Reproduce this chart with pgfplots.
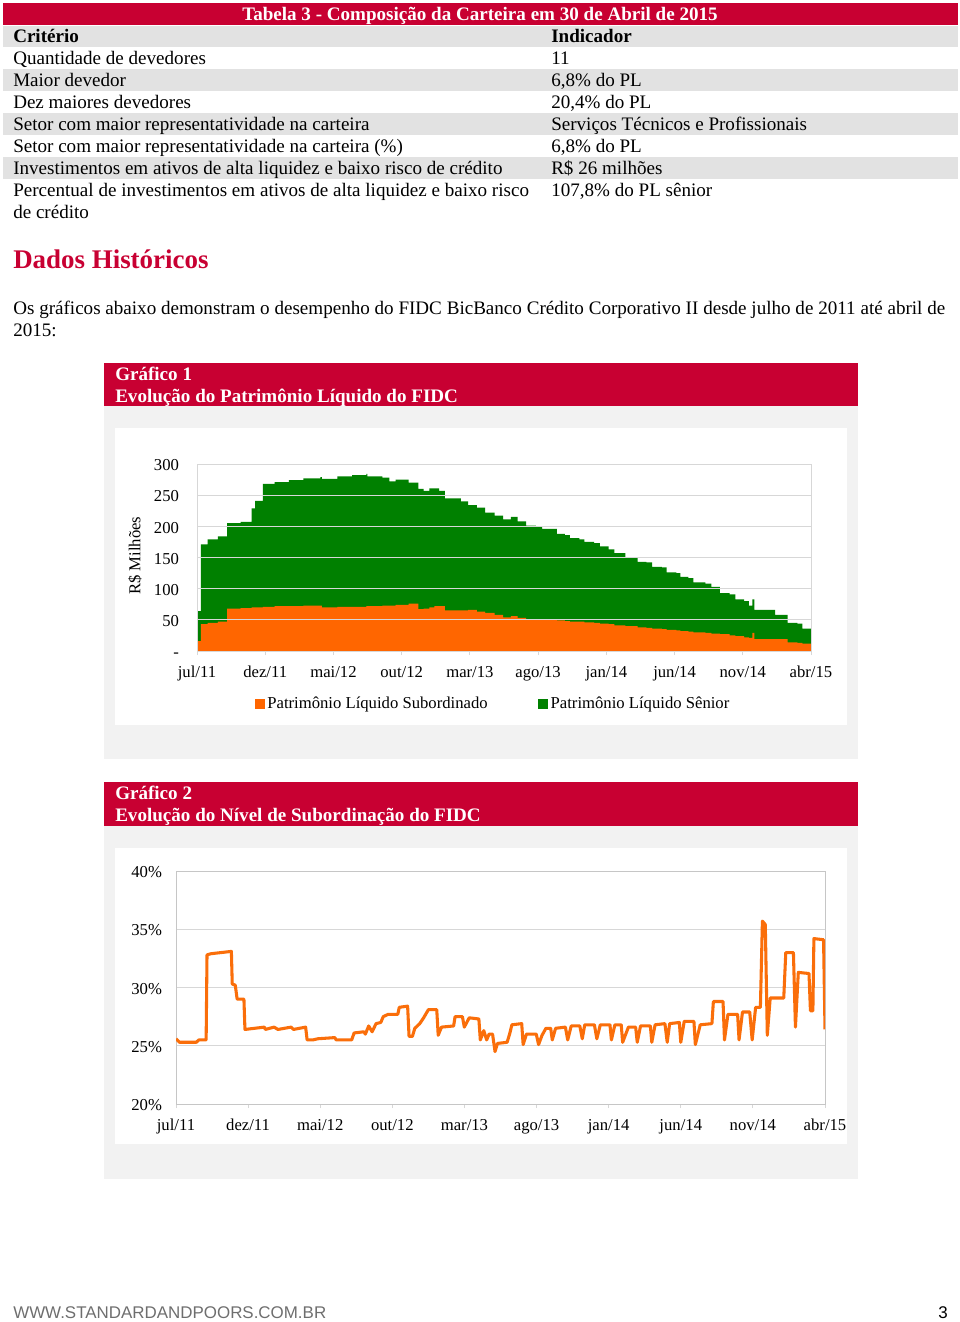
\documentclass[border=0pt]{standalone}
\usepackage{pgfplots}
\pgfplotsset{compat=1.18}
\usepackage{pgfplotstable}
\usepackage{fontspec}
\setmainfont{Liberation Serif}
\newfontfamily\footfont{Liberation Sans}
\definecolor{spred}{RGB}{200,0,50}
\definecolor{plorange}{RGB}{255,102,0}
\definecolor{lnorange}{RGB}{250,110,10}
\definecolor{plgreen}{RGB}{0,128,0}
\definecolor{rowgray}{RGB}{226,226,226}
\definecolor{panelgray}{RGB}{242,242,242}
\definecolor{gridgray}{RGB}{215,215,215}
\definecolor{footgray}{RGB}{110,110,110}

% Gráfico 1: PL subordinado (sub) e PL total (tot), R$ milhões; x = meses desde jul/11
\pgfplotstableread{
x      sub  tot
0      16   64
0.28   43   171
0.78   45   179
1.53   47   184
2.2    68   205
3.19   69   207
4.0    70   229
4.26   70   241
4.83   71   268
5.68   72   271
6.74   72   274
7.8    73   277
9.05   73   279
9.16   70   276
10.29  71   280
11.36  71   282
12.42  72   284
12.49  72   280
13.59  73   278
14.09  73   272
14.55  74   275
15.51  76   270
16.22  67   260
16.61  68   257
17.03  70   261
17.39  72   261
17.74  72   257
18.17  65   245
19.34  65   240
19.87  66   234
20.51  63   230
21.11  61   222
21.82  58   217
22.43  54   211
23.0   56   215
23.49  53   208
24.13  51   201
24.84  51   199
25.3   50   196
25.73  50   196
26.37  49   188
26.97  48   186
27.32  47   181
28.03  47   179
28.39  46   175
29.1   45   173
29.52  44   168
30.16  43   163
30.59  41   157
31.4   40   150
32.29  38   143
32.93  37   142
33.36  36   135
34.07  35   134
34.42  34   126
35.13  33   125
35.42  32   119
36.02  31   117
36.37  30   110
37.26  29   108
37.69  28   103
38.33  27   93
39.03  25   91
39.46  24   83
40.1   22   80
40.45  21   73
40.7   29   83
40.85  19   66
42.37  19   58
43.29  14   45
44.0   13   44
44.36  12   36
45     12   35
}\plA

% Gráfico 2: nível de subordinação (%)
\pgfplotstableread{
x      y
0      25.6
0.24   25.3
1.41   25.3
1.58   25.5
2.09   25.5
2.15   32.8
2.42   32.9
3.84   33.1
3.9    30.3
4.11   30.2
4.24   29.0
4.71   29.0
4.78   26.4
6.13   26.6
6.19   26.4
6.8    26.6
7.07   26.4
7.98   26.6
8.14   26.4
8.99   26.6
9.09   25.5
9.49   25.5
9.83   25.6
11.01  25.7
11.11  25.5
12.18  25.5
12.35  26.1
13.03  26.2
13.13  26.0
13.36  26.7
13.6   26.2
13.87  26.9
14.2   27.0
14.37  27.5
14.71  27.7
15.38  27.7
15.48  28.3
16.06  28.4
16.16  25.8
16.39  25.8
16.56  26.5
16.9   26.9
17.17  27.4
17.5   28.1
18.08  28.1
18.18  25.9
18.41  26.6
19.25  26.7
19.35  27.5
19.86  27.5
19.99  26.6
20.33  27.4
21.0   27.3
21.1   25.5
21.34  26.3
21.54  25.5
21.71  26.0
21.95  26.0
22.12  24.5
22.29  25.2
22.96  25.3
23.13  26.0
23.29  26.8
23.97  26.9
24.07  25.1
24.3   26.0
24.98  26.0
25.14  25.1
25.38  25.9
25.65  26.5
25.98  26.5
26.09  25.5
26.32  26.5
27.0   26.6
27.16  25.5
27.4   26.7
28.0   26.7
28.17  25.6
28.34  26.8
29.01  26.8
29.18  25.6
29.42  26.8
30.09  26.8
30.19  25.5
30.43  26.8
30.87  26.8
30.97  25.3
31.37  26.6
31.87  26.6
31.98  25.3
32.21  26.7
32.89  26.7
32.99  25.3
33.22  26.8
33.9   26.9
34.06  25.3
34.23  26.9
34.9   27.0
35.0   25.3
35.24  27.1
35.91  27.1
36.01  25.1
36.35  26.8
37.16  26.9
37.26  28.8
37.93  28.8
38.03  25.5
38.27  27.7
38.94  27.7
39.04  25.5
39.28  27.9
39.78  27.9
39.95  25.5
40.19  28.3
40.52  28.3
40.66  35.7
40.86  35.4
41.0   25.9
41.2   29.1
42.14  29.1
42.28  33.0
42.81  33.0
42.95  26.6
43.15  31.3
43.89  31.2
43.99  28.0
44.16  28.0
44.23  34.2
44.9   34.1
45.0   26.4
}\plB

\begin{document}
\begin{tikzpicture}[x=0.75pt,y=-0.75pt,
  txt/.style={anchor=base west, inner sep=0pt, font=\fontsize{14.3}{17}\selectfont},
  btxt/.style={txt, font=\bfseries\fontsize{14.3}{17}\selectfont}]
\path[use as bounding box] (0,0) rectangle (960,1322);

% Tabela 3
\fill[spred] (3,3) rectangle (958,25);
\node[anchor=base, text=white, inner sep=0pt, font=\bfseries\fontsize{14.3}{17}\selectfont] at (480,20) {Tabela 3 - Composição da Carteira em 30 de Abril de 2015};
\fill[rowgray] (3,26) rectangle (958,47);
\fill[rowgray] (3,69) rectangle (958,91);
\fill[rowgray] (3,113) rectangle (958,135);
\fill[rowgray] (3,157) rectangle (958,179);
\node[btxt] at (13,42) {Critério};
\node[btxt] at (551,42) {Indicador};
\node[txt] at (13,64) {Quantidade de devedores};
\node[txt] at (551,64) {11};
\node[txt] at (13,86) {Maior devedor};
\node[txt] at (551,86) {6,8\% do PL};
\node[txt] at (13,108) {Dez maiores devedores};
\node[txt] at (551,108) {20,4\% do PL};
\node[txt] at (13,130) {Setor com maior representatividade na carteira};
\node[txt] at (551,130) {Serviços Técnicos e Profissionais};
\node[txt] at (13,152) {Setor com maior representatividade na carteira (\%)};
\node[txt] at (551,152) {6,8\% do PL};
\node[txt] at (13,174) {Investimentos em ativos de alta liquidez e baixo risco de crédito};
\node[txt] at (551,174) {R\$ 26 milhões};
\node[txt] at (13,196) {Percentual de investimentos em ativos de alta liquidez e baixo risco};
\node[txt] at (13,218) {de crédito};
\node[txt] at (551,196) {107,8\% do PL sênior};

% Dados Históricos
\node[txt, text=spred, font=\bfseries\fontsize{20.2}{23}\selectfont] at (13,268.5) {Dados Históricos};
\node[txt] at (13,314) {\makebox[699pt][s]{Os gráficos abaixo demonstram o desempenho do FIDC BicBanco Crédito Corporativo II desde julho de 2011 até abril de}};
\node[txt] at (13,336) {2015:};

% Painel do Gráfico 1
\fill[panelgray] (104,363) rectangle (858,759);
\fill[spred] (104,363) rectangle (858,406);
\fill[white] (115,428) rectangle (847,725);
\node[btxt, text=white] at (115,380) {Gráfico 1};
\node[btxt, text=white] at (115,402) {Evolução do Patrimônio Líquido do FIDC};

% Painel do Gráfico 2
\fill[panelgray] (104,782) rectangle (858,1179);
\fill[spred] (104,782) rectangle (858,826);
\fill[white] (115,848) rectangle (847,1144);
\node[btxt, text=white] at (115,799) {Gráfico 2};
\node[btxt, text=white] at (115,821) {Evolução do Nível de Subordinação do FIDC};

\begin{axis}[
    at={(147.75pt,-488.25pt)}, anchor=south west,
    scale only axis, width=460.5pt, height=140.25pt,
    xmin=0, xmax=45, ymin=0, ymax=300,
    xtick={0,5,...,45},
    xticklabels={jul/11,dez/11,mai/12,out/12,mar/13,ago/13,jan/14,jun/14,nov/14,abr/15},
    ytick={0,50,...,300},
    yticklabels={-,50,100,150,200,250,300},
    typeset ticklabels with strut,
    ymajorgrids, grid style={gridgray, line width=0.6pt},
    axis line style={gridgray, line width=0.6pt},
    tick align=outside, xtick pos=bottom, ytick style={draw=none},
    xtick style={gridgray, line width=0.6pt}, major tick length=3pt,
    tick label style={font=\fontsize{12.5}{14}\selectfont},
    xticklabel style={yshift=-3.5pt},
    yticklabel style={xshift=-7pt, yshift=-2.2pt},
    ylabel={R\$ Milhões},
    ylabel style={at={(axis description cs:-0.101,0.51)}, anchor=center, font=\fontsize{12.5}{14}\selectfont},
    axis on top,
    legend style={at={(0.483,-0.28)}, anchor=center, draw=none, fill=none,
      legend columns=2, font=\fontsize{12.5}{14}\selectfont,
      /tikz/every even column/.append style={column sep=36pt}},
  ]
  \addplot[const plot, fill=plgreen, draw=none, forget plot] table[x=x, y=tot] {\plA} \closedcycle;
  \addplot[const plot, fill=plorange, draw=none, forget plot] table[x=x, y=sub] {\plA} \closedcycle;
  \addlegendimage{legend image code/.code={\fill[plorange] (0pt,-3.4pt) rectangle (6.8pt,3.4pt);}}
  \addlegendentry{Patrimônio Líquido Subordinado}
  \addlegendimage{legend image code/.code={\fill[plgreen] (0pt,-3.4pt) rectangle (6.8pt,3.4pt);}}
  \addlegendentry{Patrimônio Líquido Sênior}
\end{axis}

\begin{axis}[
    at={(132pt,-828pt)}, anchor=south west,
    scale only axis, width=486.75pt, height=174.75pt,
    xmin=0, xmax=45, ymin=20, ymax=40,
    xtick={0,5,...,45},
    xticklabels={jul/11,dez/11,mai/12,out/12,mar/13,ago/13,jan/14,jun/14,nov/14,abr/15},
    ytick={20,25,...,40},
    yticklabels={20\%,25\%,30\%,35\%,40\%},
    typeset ticklabels with strut,
    ymajorgrids, grid style={gridgray, line width=0.6pt},
    axis line style={gridgray!80!gray, line width=0.6pt},
    tick align=outside, xtick pos=bottom, ytick style={draw=none},
    xtick style={gridgray, line width=0.6pt}, major tick length=3pt,
    tick label style={font=\fontsize{12.5}{14}\selectfont},
    xticklabel style={yshift=-3.5pt},
    yticklabel style={xshift=-4pt, yshift=-2.2pt},
  ]
  \addplot[lnorange, line width=2.3pt, line join=round] table[x=x, y=y] {\plB};
\end{axis}

% Rodapé
\node[anchor=base west, inner sep=0pt, text=footgray, font=\footfont\fontsize{12.7}{15}\selectfont] at (13,1318) {WWW.STANDARDANDPOORS.COM.BR};
\node[anchor=base east, inner sep=0pt, font=\footfont\fontsize{12.7}{15}\selectfont] at (948,1318) {3};
\end{tikzpicture}
\end{document}
